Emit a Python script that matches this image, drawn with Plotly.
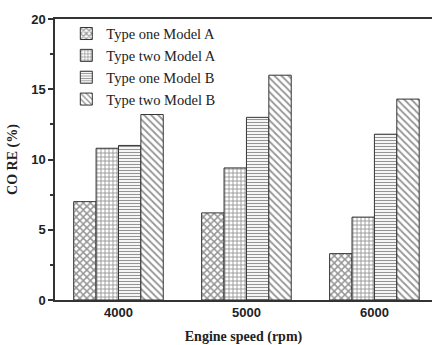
import plotly.graph_objects as go

speeds = ["4000", "5000", "6000"]
series_names = ["Type one Model A", "Type two Model A", "Type one Model B", "Type two Model B"]
type_one_model_a = [7.0, 6.2, 3.3]
type_two_model_a = [10.8, 9.4, 5.9]
type_one_model_b = [11.0, 13.0, 11.8]
type_two_model_b = [13.2, 16.0, 14.3]
y_ticks = [0, 5, 10, 15, 20]

series_values = [type_one_model_a, type_two_model_a, type_one_model_b, type_two_model_b]
patterns = ["x", "+", "-", "\\"]
pat_sizes = [5, 4, 3, 5]
pat_solid = [0.5, 0.4, 0.4, 0.35]

xpos = list(range(len(speeds)))

fig = go.Figure()
for name, vals, shp, sz, so in zip(series_names, series_values, patterns, pat_sizes, pat_solid):
    fig.add_trace(go.Bar(
        x=xpos, y=vals, name=name,
        marker=dict(
            color="white",
            line=dict(color="#333333", width=1),
            pattern=dict(shape=shp, size=sz, solidity=so, fgcolor="#2a2a2a", bgcolor="white", fillmode="overlay"),
        ),
    ))

axis_col = "#333333"
fig.update_layout(
    width=432, height=345,
    margin=dict(l=55, r=0, t=19, b=45),
    paper_bgcolor="white", plot_bgcolor="white",
    barmode="group", bargap=0.3, bargroupgap=0,
    showlegend=True,
    legend=dict(
        x=0.03, y=1.005, xanchor="left", yanchor="top",
        bgcolor="rgba(0,0,0,0)",
        font=dict(family="Liberation Serif", size=14.5, color="#222222"),
        itemwidth=30, tracegroupgap=0,
    ),
    xaxis=dict(
        range=[-0.496, 2.45],
        tickvals=xpos, ticktext=speeds,
        showline=True, linecolor=axis_col, linewidth=1.5, mirror=True,
        ticks="", showgrid=False, zeroline=False,
        tickfont=dict(family="Liberation Sans", size=13, color="#222222", weight="bold"),
        title=dict(text="Engine speed (rpm)", standoff=12,
                   font=dict(family="Liberation Serif", size=14, color="#222222", weight="bold")),
    ),
    yaxis=dict(
        range=[0, 20],
        tickvals=y_ticks,
        showline=True, linecolor=axis_col, linewidth=1.5, mirror=False,
        ticks="outside", ticklen=5, tickwidth=1.5, tickcolor=axis_col,
        minor=dict(ticks="outside", ticklen=3, tickwidth=1.5, tickcolor=axis_col, dtick=2.5, showgrid=False),
        showgrid=False, zeroline=False,
        tickfont=dict(family="Liberation Sans", size=13, color="#222222", weight="bold"),
        title=dict(text="CO RE (%)", standoff=10,
                   font=dict(family="Liberation Serif", size=14, color="#222222", weight="bold")),
    ),
)

fig.write_html("out.html")
